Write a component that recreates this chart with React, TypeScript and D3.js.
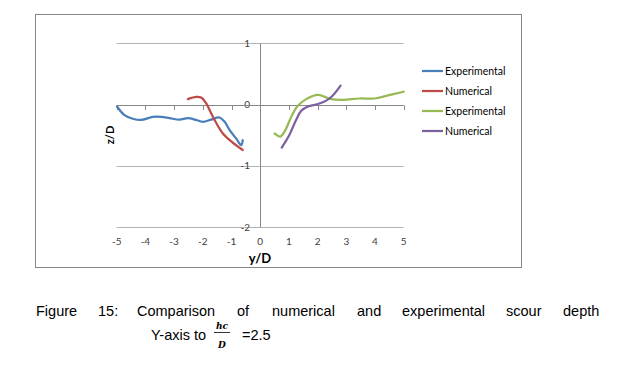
import React, { useMemo } from "react";
import * as d3 from "d3";

// left side (y/D < 0)
const expLeftY = [-4.99, -4.73, -4.44, -4.15, -3.74, -3.45, -3.16, -2.81, -2.52, -2.23, -2.0, -1.71, -1.42, -1.24, -1.07, -0.84, -0.66, -0.61];
const expLeftZ = [-0.03, -0.17, -0.23, -0.25, -0.2, -0.2, -0.22, -0.245, -0.22, -0.25, -0.28, -0.245, -0.21, -0.28, -0.41, -0.55, -0.66, -0.58];
const numLeftY = [-2.52, -2.23, -2.06, -1.88, -1.71, -1.53, -1.3, -1.01, -0.61];
const numLeftZ = [0.09, 0.125, 0.115, 0.02, -0.14, -0.3, -0.47, -0.6, -0.74];

// right side (y/D > 0)
const expRightY = [0.5, 0.7, 0.85, 1.08, 1.31, 1.6, 2.01, 2.24, 2.47, 2.88, 3.46, 3.98, 4.45, 5.0];
const expRightZ = [-0.47, -0.52, -0.44, -0.2, -0.02, 0.09, 0.16, 0.13, 0.09, 0.077, 0.1, 0.1, 0.15, 0.21];
const numRightY = [0.75, 1.02, 1.25, 1.43, 1.66, 2.01, 2.3, 2.53, 2.8];
const numRightZ = [-0.7, -0.49, -0.25, -0.1, -0.03, 0.01, 0.065, 0.15, 0.31];

const xTicks = [-5, -4, -3, -2, -1, 0, 1, 2, 3, 4, 5];
const yTicks = [1, 0, -1, -2];

const seriesNames = ["Experimental", "Numerical", "Experimental", "Numerical"];
const seriesColors = ["#4a7ebb", "#be4b48", "#98b954", "#7d60a0"];

const captionWords = ["Figure", "15:", "Comparison", "of", "numerical", "and", "experimental", "scour", "depth"];
const captionX = [36, 98, 137, 237, 272, 357, 402, 506, 563];

const chartFont = "Lato, 'Liberation Sans', sans-serif";
const captionFont = "'Liberation Sans', Arial, sans-serif";

export default function App() {
  const x = d3.scaleLinear().domain([-5, 5]).range([116.7, 403.7]);
  const y = d3.scaleLinear().domain([-2, 1]).range([227.3, 43.3]);

  const series = useMemo(
    () => [
      expLeftY.map((v, i) => [v, expLeftZ[i]]),
      numLeftY.map((v, i) => [v, numLeftZ[i]]),
      expRightY.map((v, i) => [v, expRightZ[i]]),
      numRightY.map((v, i) => [v, numRightZ[i]]),
    ] as [number, number][][],
    []
  );

  const line = d3
    .line<[number, number]>()
    .x((d) => x(d[0]))
    .y((d) => y(d[1]))
    .curve(d3.curveCatmullRom.alpha(0.5));

  return (
    <svg
      width={620}
      height={365}
      style={{ position: "absolute", left: 0, top: 0, background: "#fff" }}
    >
      <rect x={0} y={0} width={620} height={365} fill="#fff" />
      {/* chart frame */}
      <rect x={35.5} y={14.5} width={486} height={253} fill="#fff" stroke="#868686" strokeWidth={1} />

      {/* gridlines */}
      {yTicks.map((t) => (
        <line
          key={"g" + t}
          x1={x(-5)}
          x2={x(5)}
          y1={Math.round(y(t)) + 0.5}
          y2={Math.round(y(t)) + 0.5}
          stroke="#b3b3b3"
          strokeWidth={1}
        />
      ))}

      {/* y axis at x = 0 */}
      <line
        x1={Math.round(x(0)) + 0.5}
        x2={Math.round(x(0)) + 0.5}
        y1={y(1)}
        y2={y(-2)}
        stroke="#868686"
      />
      {yTicks.map((t) => (
        <text
          key={"yl" + t}
          x={250}
          y={y(t)}
          dy="0.35em"
          textAnchor="end"
          fontFamily={chartFont}
          fontSize={10}
          fill="#404040"
        >
          {t < 0 ? "-" + Math.abs(t) : t}
        </text>
      ))}

      {/* x axis at z = 0 */}
      <line x1={x(-5)} x2={x(5)} y1={Math.round(y(0)) + 0.5} y2={Math.round(y(0)) + 0.5} stroke="#868686" />
      {xTicks.map((t) => (
        <g key={"xt" + t}>
          <line
            x1={Math.round(x(t)) + 0.5}
            x2={Math.round(x(t)) + 0.5}
            y1={Math.round(y(0)) + 0.5}
            y2={Math.round(y(0)) + 5}
            stroke="#868686"
          />
          <text
            x={x(t)}
            y={241}
            dy="0.35em"
            textAnchor="middle"
            fontFamily={chartFont}
            fontSize={10}
            fill="#404040"
          >
            {t < 0 ? "-" + Math.abs(t) : t}
          </text>
        </g>
      ))}

      {/* series */}
      {series.map((pts, i) => (
        <path
          key={"s" + i}
          d={line(pts) || ""}
          fill="none"
          stroke={seriesColors[i]}
          strokeWidth={2.25}
          strokeLinejoin="round"
          strokeLinecap="round"
        />
      ))}

      {/* axis titles */}
      <text
        x={260}
        y={258}
        dy="0.35em"
        textAnchor="middle"
        fontFamily={chartFont}
        fontWeight="bold"
        fontSize={13}
        fill="#000"
      >
        y/D
      </text>
      <text
        transform="translate(110,135) rotate(-90)"
        dy="0.35em"
        textAnchor="middle"
        fontFamily={chartFont}
        fontWeight="bold"
        fontSize={11}
        fill="#000"
      >
        z/D
      </text>

      {/* legend */}
      {seriesNames.map((name, i) => (
        <g key={"lg" + i} transform={`translate(422, ${71 + i * 20})`}>
          <line x1={0} x2={21} y1={0} y2={0} stroke={seriesColors[i]} strokeWidth={2.25} />
          <text x={23} y={0} dy="0.35em" fontFamily={chartFont} fontSize={10.5} fill="#000">
            {name}
          </text>
        </g>
      ))}

      {/* caption */}
      {captionWords.map((w, i) => (
        <text key={"c" + i} x={captionX[i]} y={316} fontFamily={captionFont} fontSize={14.5} fill="#000">
          {w}
        </text>
      ))}
      <text x={151} y={340} fontFamily={captionFont} fontSize={14.5} fill="#000">
        Y-axis to
      </text>
      <text
        x={222}
        y={328.5}
        textAnchor="middle"
        fontFamily="'DejaVu Serif', serif"
        fontStyle="italic"
        fontWeight="bold"
        fontSize={9}
        fill="#000"
      >
        hc
      </text>
      <line x1={214} x2={230} y1={332.5} y2={332.5} stroke="#000" strokeWidth={0.8} />
      <text
        x={222}
        y={348}
        textAnchor="middle"
        fontFamily="'DejaVu Serif', serif"
        fontStyle="italic"
        fontWeight="bold"
        fontSize={9}
        fill="#000"
      >
        D
      </text>
      <text x={242} y={340} fontFamily={captionFont} fontSize={14.5} fill="#000">
        =2.5
      </text>
    </svg>
  );
}
